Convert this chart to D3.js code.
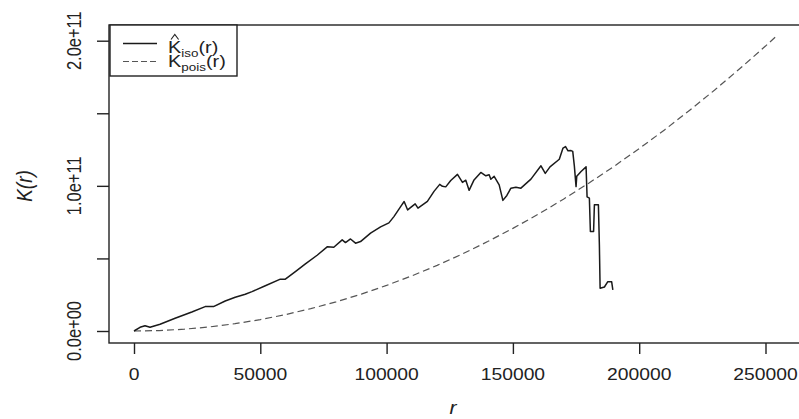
<!DOCTYPE html>
<html>
<head>
<meta charset="utf-8">
<script src="https://cdn.jsdelivr.net/npm/d3@7"></script>
<style>
    html, body { margin: 0; padding: 0; background: #fff; overflow: hidden; }
    text { font-family: 'Liberation Sans', Arial, sans-serif; fill: #222; }
</style>
</head>
<body>
<div id="chart"></div>
<script>
'use strict';

// ------------ DATA ---------------- //

const ISO_R = [
    0, 2381, 4365, 6349, 8333, 10317, 16270, 22897, 28175, 31468,
    36111, 40079, 44048, 46706, 51984, 57937, 59921, 63889, 67857, 72500,
    76587, 79087, 82421, 83730, 85714, 87698, 89683, 93651, 97619, 100913,
    102897, 105556, 106944, 108333, 111310, 112421, 116151, 118770, 121032, 122103,
    123413, 125397, 128056, 130040, 131349, 132659, 134524, 137302, 139286, 140595,
    141270, 142579, 144563, 146032, 147619, 149206, 151190, 153175, 157143, 161111,
    162817, 164683, 168373, 169841, 170833, 171825, 173016, 173690, 174325, 175000,
    175278, 176984, 178968, 179365, 180278, 180675, 181944, 182262, 183849, 184246,
    184524, 186230, 187579, 189087, 189563
];
const ISO_K = [
    0, 2.55e9, 3.66e9, 2.55e9, 3.66e9, 4.62e9, 8.76e9, 13.1e9, 16.8e9, 16.8e9,
    20.7e9, 23.2e9, 25.3e9, 27.1e9, 31.2e9, 35.7e9, 35.7e9, 40.9e9, 46.2e9, 52.2e9,
    58.1e9, 57.7e9, 62.8e9, 60.9e9, 63.4e9, 60.5e9, 61.6e9, 67.4e9, 71.7e9, 74.5e9,
    78.8e9, 85.7e9, 89.2e9, 83.4e9, 87.6e9, 84.6e9, 89.3e9, 96.2e9, 101.0e9, 99.7e9,
    99.3e9, 103.7e9, 107.9e9, 102.4e9, 103.9e9, 96.9e9, 103.8e9, 109.2e9, 106.9e9, 107.6e9,
    104.5e9, 106.6e9, 100.7e9, 90.0e9, 93.4e9, 98.4e9, 99.1e9, 98.4e9, 104.6e9, 113.8e9,
    108.6e9, 113.1e9, 118.3e9, 126.0e9, 127.1e9, 124.1e9, 124.3e9, 123.7e9, 113.8e9, 99.5e9,
    106.6e9, 109.9e9, 113.1e9, 92.4e9, 91.5e9, 68.5e9, 68.5e9, 86.9e9, 86.9e9, 58.6e9,
    29.4e9, 30.3e9, 34.0e9, 34.0e9, 28.3e9
];

// theoretical K for a Poisson process
const POIS_R = [
    0, 10000, 20000, 30000, 40000, 50000, 60000, 70000, 80000, 90000,
    100000, 110000, 120000, 130000, 140000, 150000, 160000, 170000, 180000, 190000,
    200000, 210000, 220000, 230000, 240000, 250000, 254000
];
const POIS_K = [
    0, 0.31e9, 1.26e9, 2.83e9, 5.03e9, 7.85e9, 11.3e9, 15.4e9, 20.1e9, 25.4e9,
    31.4e9, 38.0e9, 45.2e9, 53.1e9, 61.6e9, 70.7e9, 80.4e9, 90.8e9, 101.8e9, 113.4e9,
    125.7e9, 138.5e9, 152.1e9, 166.2e9, 181.0e9, 196.3e9, 202.7e9
];

const X_TICKS       = [0, 50000, 100000, 150000, 200000, 250000];
const X_TICK_LABELS = ['0', '50000', '100000', '150000', '200000', '250000'];
const Y_TICKS       = [0, 0.5e11, 1e11, 1.5e11, 2e11];
const Y_TICK_LABELS = ['0.0e+00', '', '1.0e+11', '', '2.0e+11'];

// ------------------- LAYOUT ------------- //

const WIDTH   = 799;
const HEIGHT  = 419;
const BOX     = {left: 109, top: 25, right: 802, bottom: 343};
const STRETCH = 1.17;   // the picture is widened a little
const INK     = '#222';

// ---------------  D3/GRAPH/DRAWING ------------- //

const drawChart = () => {
    const svg = d3.select('#chart')
        .append('svg')
        .attr('width', WIDTH)
        .attr('height', HEIGHT)
        .attr('id', 'svg');

    const x = d3.scaleLinear().domain([0, 250000]).range([134, 765.5]);
    const y = d3.scaleLinear().domain([0, 2e11]).range([331, 40.7]);

    // frame
    svg.append('rect')
        .attr('x', BOX.left).attr('y', BOX.top)
        .attr('width', BOX.right - BOX.left).attr('height', BOX.bottom - BOX.top)
        .attr('fill', 'none').attr('stroke', INK).attr('stroke-width', 1.4);

    // x axis
    const xAxis = svg.append('g')
        .attr('transform', `translate(0,${BOX.bottom})`)
        .call(d3.axisBottom(x).tickValues(X_TICKS).tickSize(11).tickFormat(''));
    xAxis.select('.domain').remove();
    xAxis.selectAll('line').attr('stroke', INK).attr('stroke-width', 1.4);

    svg.append('g').selectAll('text')
        .data(X_TICKS)
        .join('text')
        .attr('transform', d => `translate(${x(d)},380) scale(${STRETCH},1)`)
        .attr('text-anchor', 'middle')
        .attr('font-size', 16.5)
        .text((d, i) => X_TICK_LABELS[i]);

    // y axis
    const yAxis = svg.append('g')
        .attr('transform', `translate(${BOX.left},0)`)
        .call(d3.axisLeft(y).tickValues(Y_TICKS).tickSize(12).tickFormat(''));
    yAxis.select('.domain').remove();
    yAxis.selectAll('line').attr('stroke', INK).attr('stroke-width', 1.4);

    svg.append('g').selectAll('text')
        .data(Y_TICKS)
        .join('text')
        .attr('transform', d => `translate(81,${y(d)}) scale(${STRETCH},1) rotate(-90)`)
        .attr('text-anchor', 'middle')
        .attr('font-size', 16.5)
        .text((d, i) => Y_TICK_LABELS[i]);

    // axis titles
    svg.append('text')
        .attr('transform', `translate(453,414) scale(${STRETCH},1)`)
        .attr('text-anchor', 'middle')
        .attr('font-size', 18)
        .attr('font-style', 'italic')
        .text('r');

    svg.append('text')
        .attr('transform', `translate(32,186) scale(${STRETCH},1) rotate(-90)`)
        .attr('text-anchor', 'middle')
        .attr('font-size', 19)
        .attr('font-style', 'italic')
        .text('K(r)');

    // curves
    const line = d3.line().x(d => x(d[0])).y(d => y(d[1]));

    svg.append('path')
        .datum(d3.zip(POIS_R, POIS_K))
        .attr('d', line)
        .attr('fill', 'none')
        .attr('stroke', '#555')
        .attr('stroke-width', 1.2)
        .attr('stroke-dasharray', '7,4');

    svg.append('path')
        .datum(d3.zip(ISO_R, ISO_K))
        .attr('d', line)
        .attr('fill', 'none')
        .attr('stroke', '#1a1a1a')
        .attr('stroke-width', 1.5)
        .attr('stroke-linejoin', 'round');

    drawLegend(svg);
};

const drawLegend = svg => {
    const g = svg.append('g');

    g.append('rect')
        .attr('x', 110).attr('y', 25).attr('width', 127).attr('height', 51)
        .attr('fill', '#fff').attr('stroke', INK).attr('stroke-width', 1.4);

    g.append('line')
        .attr('x1', 123).attr('x2', 157).attr('y1', 43.5).attr('y2', 43.5)
        .attr('stroke', '#1a1a1a').attr('stroke-width', 1.5);
    g.append('line')
        .attr('x1', 123).attr('x2', 157).attr('y1', 61.5).attr('y2', 61.5)
        .attr('stroke', '#555').attr('stroke-width', 1.2)
        .attr('stroke-dasharray', '6,3');

    const entry = (baseline, sub) => {
        const t = g.append('text')
            .attr('transform', `translate(168,${baseline}) scale(${STRETCH},1)`)
            .attr('font-size', 17);
        t.append('tspan').text('K');
        t.append('tspan').attr('font-size', 11.5).attr('dy', 4).text(sub);
        t.append('tspan').attr('dy', -4).text('(r)');
    };
    entry(53, 'iso');
    entry(67, 'pois');

    // hat over the estimated K
    g.append('path')
        .attr('d', 'M171,39.5 L174.8,34.5 L178.6,39.5')
        .attr('fill', 'none')
        .attr('stroke', INK)
        .attr('stroke-width', 1.1);
};

// --------------------   MAIN   ------------------- //

document.addEventListener('DOMContentLoaded', drawChart);
</script>
</body>
</html>
